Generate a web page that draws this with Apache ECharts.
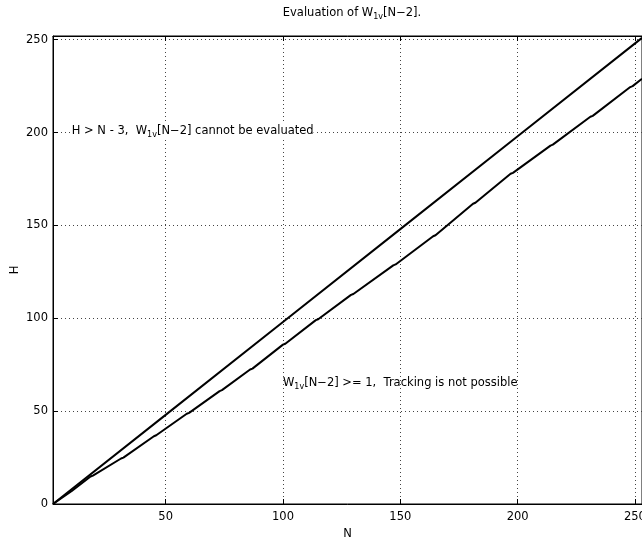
<!DOCTYPE html>
<html>
<head>
  <meta charset="UTF-8">
  <title>Evaluation of W1v[N-2]</title>
  <script src="https://cdn.jsdelivr.net/npm/echarts@6/dist/echarts.min.js"></script>
  <style>
    html, body { margin: 0; padding: 0; background: #fff; }
    #chart { width: 642px; height: 539px; }
  </style>
</head>
<body>
  <div id="chart"></div>
  <script>
    // data
    const xTicks = [50, 100, 150, 200, 250];
    const yTicks = [0, 50, 100, 150, 200, 250];
    // boundary H = N - 3 (straight line)
    const upperN = [2, 50, 100, 150, 200, 253];
    const upperH = [0, 48, 98, 148, 198, 251];
    // W1v[N-2] = 1 curve, small steps along it
    const lowerN = [2, 10, 18, 19, 31, 32, 45, 46, 59, 60, 73, 74, 86, 87, 100, 101,
                    114, 115, 129, 130, 147, 148, 164, 165, 181, 182, 197, 198,
                    214, 215, 231, 232, 248, 249, 253];
    const lowerH = [0, 7, 14.8, 15.3, 24.5, 25, 36.5, 37, 48.6, 49.1, 60.8, 61.3, 72.4, 72.9, 85.8, 86.3,
                    99, 99.5, 112.6, 113.1, 128.5, 129, 144.2, 144.7, 161.7, 162.2, 177.8, 178.3,
                    193, 193.5, 208.5, 209, 224.5, 225, 229];

    const font = 'DejaVu Sans, Verdana, sans-serif';
    const chart = echarts.init(document.getElementById('chart'));

    const gridLine = { show: true, lineStyle: { color: '#444', type: [1, 3], width: 1 } };
    const rich = {
      t: { fontSize: 11.5, fontFamily: font, color: '#000' },
      s: { fontSize: 8, fontFamily: font, color: '#000', padding: [8, 0, 0, 0] }
    };

    function xAxisCfg(pos, labels) {
      return {
        type: 'value', position: pos, min: 2, max: 253,
        axisLine: { show: true, onZero: false, lineStyle: { color: '#000', width: 1 } },
        axisTick: { show: true, inside: true, length: 5, customValues: xTicks, lineStyle: { color: '#000' } },
        axisLabel: { show: labels, customValues: xTicks, color: '#000', fontSize: 11.5, fontFamily: font, margin: 7 },
        splitLine: labels ? gridLine : { show: false },
        name: labels ? 'N' : '', nameLocation: 'middle', nameGap: 22,
        nameTextStyle: { color: '#000', fontSize: 11.5, fontFamily: font }
      };
    }

    chart.setOption({
      animation: false,
      backgroundColor: '#fff',
      title: {
        text: '{t|Evaluation of W}{s|1v}{t|[N\u22122].}',
        left: 347, top: 0, textAlign: 'center',
        textStyle: { rich: rich, fontSize: 11.5, fontFamily: font, color: '#000', fontWeight: 'normal' }
      },
      grid: {
        left: 53, right: 0, top: 36, bottom: 35, outerBoundsMode: 'none', containLabel: false,
        show: true, borderColor: '#000', borderWidth: 1
      },
      xAxis: [xAxisCfg('bottom', true), xAxisCfg('top', false)],
      yAxis: {
        type: 'value', min: 0, max: 252,
        axisLine: { show: true, lineStyle: { color: '#000', width: 1 } },
        axisTick: { show: true, inside: true, length: 5, customValues: yTicks, lineStyle: { color: '#000' } },
        axisLabel: { customValues: yTicks, color: '#000', fontSize: 11.5, fontFamily: font, margin: 5 },
        splitLine: gridLine,
        name: 'H', nameLocation: 'middle', nameGap: 32, nameRotate: 90, nameMoveOverlap: false,
        nameTextStyle: { color: '#000', fontSize: 11.5, fontFamily: font }
      },
      series: [
        {
          type: 'line', showSymbol: false, symbol: 'none', clip: true,
          data: upperN.map((n, i) => [n, upperH[i]]),
          lineStyle: { color: '#000', width: 2 }
        },
        {
          type: 'line', showSymbol: false, symbol: 'none', clip: true,
          data: lowerN.map((n, i) => [n, lowerH[i]]),
          lineStyle: { color: '#000', width: 2 }
        }
      ]
    });

    // annotations placed at data positions
    const p1 = chart.convertToPixel({ gridIndex: 0 }, [10, 201]);
    const p2 = chart.convertToPixel({ gridIndex: 0 }, [100, 65]);
    chart.setOption({
      graphic: [
        {
          type: 'text', x: p1[0], y: p1[1],
          style: {
            text: '{t|H > N - 3,  W}{s|1v}{t|[N\u22122] cannot be evaluated}',
            rich: rich, verticalAlign: 'middle', backgroundColor: '#fff'
          }
        },
        {
          type: 'text', x: p2[0], y: p2[1],
          style: {
            text: '{t|W}{s|1v}{t|[N\u22122] >= 1,  Tracking is not possible}',
            rich: rich, verticalAlign: 'middle'
          }
        }
      ]
    });
  </script>
</body>
</html>
